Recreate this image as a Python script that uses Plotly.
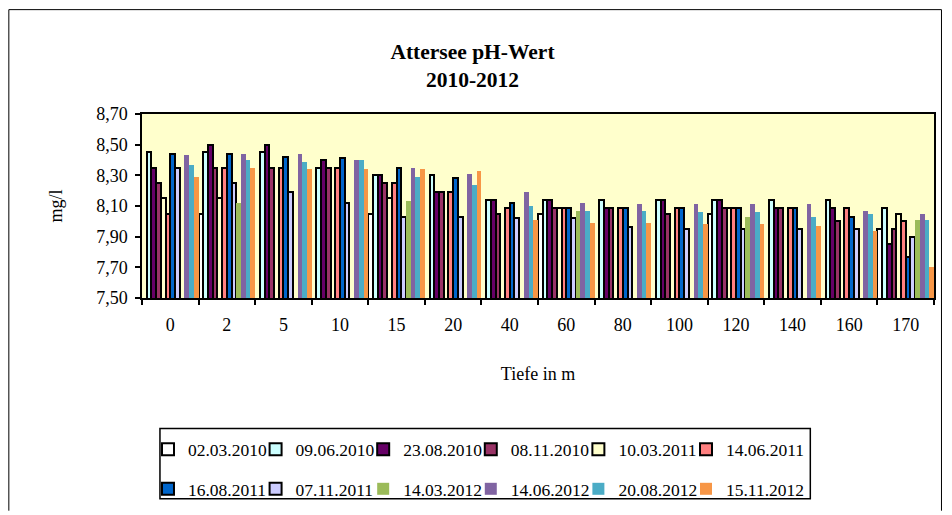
import plotly.graph_objects as go

# ---- data ----
depths = ["0", "2", "5", "10", "15", "20", "40", "60", "80", "100", "120", "140", "160", "170"]

series_names = ["02.03.2010", "09.06.2010", "23.08.2010", "08.11.2010", "10.03.2011", "14.06.2011",
                "16.08.2011", "07.11.2011", "14.03.2012", "14.06.2012", "20.08.2012", "15.11.2012"]

ph_02_03_2010 = [None, 8.05, None, None, 8.05, None, None, 8.05, None, None, 8.05, None, None, 7.95]
ph_09_06_2010 = [8.45, 8.45, 8.45, 8.35, 8.30, 8.30, 8.14, 8.14, 8.14, 8.14, 8.14, 8.14, 8.14, 8.09]
ph_23_08_2010 = [8.35, 8.50, 8.50, 8.40, 8.30, 8.19, 8.14, 8.14, 8.09, 8.14, 8.14, 8.09, 8.09, 7.85]
ph_08_11_2010 = [8.25, 8.35, 8.35, 8.35, 8.25, 8.19, 8.05, 8.09, 8.09, 8.05, 8.09, 8.09, 8.00, 7.95]
ph_10_03_2011 = [8.15, 8.15, None, None, 8.15, None, None, 8.09, None, None, 8.09, None, None, 8.05]
ph_14_06_2011 = [8.05, 8.35, 8.35, 8.35, 8.25, 8.19, 8.09, 8.09, 8.09, 8.09, 8.09, 8.09, 8.09, 8.00]
ph_16_08_2011 = [8.44, 8.44, 8.42, 8.41, 8.35, 8.28, 8.12, 8.09, 8.09, 8.09, 8.09, 8.09, 8.03, 7.77]
ph_07_11_2011 = [8.35, 8.25, 8.19, 8.12, 8.03, 8.03, 8.02, 8.02, 7.96, 7.95, 7.95, 7.95, 7.95, 7.90]
ph_14_03_2012 = [None, 8.12, None, None, 8.13, None, None, 8.07, None, None, 8.03, None, None, 8.01]
ph_14_06_2012 = [8.43, 8.44, 8.44, 8.40, 8.35, 8.31, 8.19, 8.12, 8.11, 8.11, 8.11, 8.11, 8.07, 8.05]
ph_20_08_2012 = [8.37, 8.40, 8.39, 8.40, 8.29, 8.24, 8.10, 8.07, 8.07, 8.06, 8.06, 8.03, 8.05, 8.01]
ph_15_11_2012 = [8.29, 8.35, 8.34, 8.34, 8.34, 8.33, 8.01, 7.99, 7.99, 7.98, 7.98, 7.97, 7.94, 7.70]

series_values = [ph_02_03_2010, ph_09_06_2010, ph_23_08_2010, ph_08_11_2010, ph_10_03_2011, ph_14_06_2011,
                 ph_16_08_2011, ph_07_11_2011, ph_14_03_2012, ph_14_06_2012, ph_20_08_2012, ph_15_11_2012]

# ---- styles ----
colors = ["#FFFFFF", "#CCFFFF", "#660066", "#993366", "#FFFFCC", "#FF8080",
          "#0066CC", "#CCCCFF", "#9BBB59", "#8064A2", "#4BACC6", "#F79646"]
outline_w = [2] * 8 + [0] * 4

FONT = "Liberation Serif"

fig = go.Figure()
for i, (name, vals) in enumerate(zip(series_names, series_values)):
    fig.add_trace(go.Bar(
        x=depths, y=vals, name=name,
        marker=dict(color=colors[i], line=dict(color="black", width=outline_w[i])),
        legend="legend" if i < 6 else "legend2",
        legendwidth=95 if i in (5, 11) else None,
    ))

# figure geometry (page body has an 8px margin)
W, H = 936, 507
L, R, T = 134, 8, 106
PLOT_BOTTOM = 292
B = H - PLOT_BOTTOM
pw, ph = W - L - R, PLOT_BOTTOM - T


def px(xf):
    return (xf - L) / pw


def py(yf):
    return (PLOT_BOTTOM - yf) / ph


legend_common = dict(orientation="h", xanchor="left", yanchor="middle",
                     entrywidth=62.6, entrywidthmode="pixels",
                     bgcolor="rgba(0,0,0,0)", borderwidth=0,
                     font=dict(family=FONT, size=17.5, color="black"),
                     traceorder="normal")

fig.update_layout(
    width=W, height=H, autosize=False,
    margin=dict(l=L, r=R, t=T, b=B, pad=0),
    paper_bgcolor="white", plot_bgcolor="#FFFFCC",
    barmode="group", bargap=0, bargroupgap=0,
    separators=", ",
    font=dict(family=FONT, size=18, color="black"),
    title=dict(text="<b>Attersee pH-Wert<br>2010-2012</b>", x=464.5 / W, xanchor="center",
               xref="container", yref="container", y=1 - 51 / H, yanchor="top",
               font=dict(family=FONT, size=21.5, color="black")),
    xaxis=dict(type="category", tickson="boundaries", ticks="outside", ticklen=5, tickwidth=1.5,
               tickcolor="black", showline=True, linecolor="black", linewidth=1.5, mirror=True,
               showgrid=False, ticklabelstandoff=10, tickfont=dict(family=FONT, size=18),
               title=dict(text="Tiefe in m", standoff=33, font=dict(family=FONT, size=18))),
    yaxis=dict(range=[7.5, 8.7], tick0=7.5, dtick=0.2, tickformat=".2f", showgrid=False,
               zeroline=False, showline=True, linecolor="black", linewidth=1.5, mirror=True,
               ticks="outside", ticklen=5, tickwidth=1.5, tickcolor="black", ticklabelstandoff=4,
               tickfont=dict(family=FONT, size=18),
               title=dict(text="mg/l", standoff=29, font=dict(family=FONT, size=18))),
    legend=dict(x=px(140), y=py(445), **legend_common),
    legend2=dict(x=px(140), y=py(485), **legend_common),
    shapes=[
        # legend box
        dict(type="rect", xref="paper", yref="paper", x0=px(152), x1=px(804), y0=py(495), y1=py(424),
             line=dict(color="black", width=1.5), fillcolor="rgba(0,0,0,0)", layer="above"),
        # chart frame (left, top, right)
        dict(type="line", xref="paper", yref="paper", x0=px(0.5), x1=px(0.5), y0=py(H), y1=py(0.5),
             line=dict(color="black", width=1)),
        dict(type="line", xref="paper", yref="paper", x0=px(0.5), x1=px(W - 0.5), y0=py(0.5), y1=py(0.5),
             line=dict(color="black", width=1)),
        dict(type="line", xref="paper", yref="paper", x0=px(W - 0.5), x1=px(W - 0.5), y0=py(H), y1=py(0.5),
             line=dict(color="black", width=1)),
    ],
)

fig.write_html("out.html")
